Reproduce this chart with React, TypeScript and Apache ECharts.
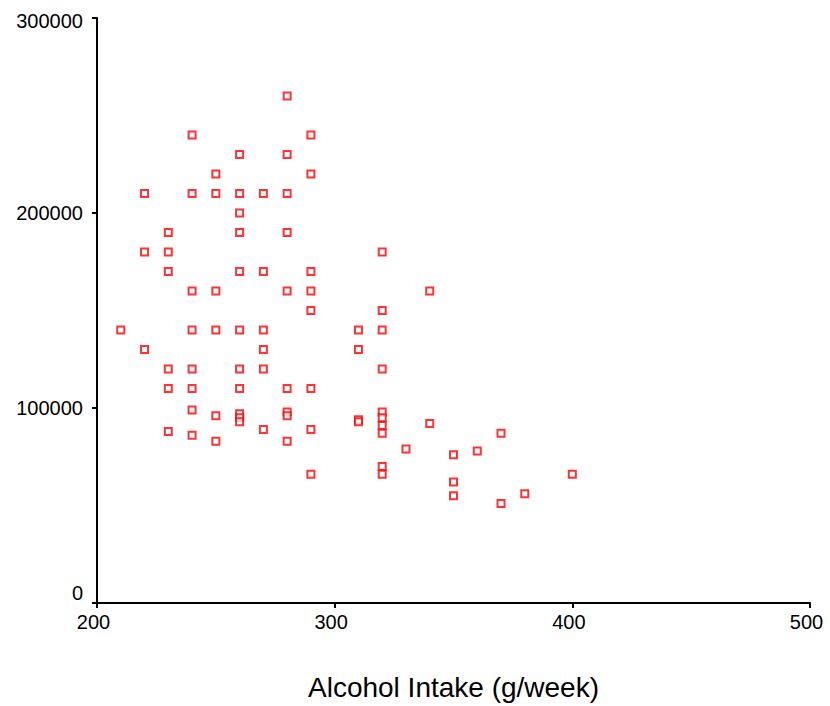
import React, { useEffect, useRef } from "react";
import * as echarts from "echarts";

// Alcohol intake (g/week)
const alcohol: number[] = [
  280, 240, 290, 260, 280, 250, 290, 220, 240, 250, 260, 270, 280, 260, 230, 260, 280,
  220, 230, 320, 230, 260, 270, 290, 240, 250, 280, 290, 340, 290, 320,
  210, 240, 250, 260, 270, 310, 320, 220, 270, 310, 230, 240, 260, 270, 320,
  230, 240, 260, 280, 290, 240, 280, 280, 250, 260, 260, 260, 320, 320, 320, 320,
  310, 310, 340, 230, 240, 250, 270, 280, 290, 370, 330, 360, 350, 320, 320, 290,
  400, 350, 350, 380, 370,
];
// Y values
const yValues: number[] = [
  260000, 240000, 240000, 230000, 230000, 220000, 220000, 210000, 210000, 210000, 210000, 210000, 210000, 200000, 190000, 190000, 190000,
  180000, 180000, 180000, 170000, 170000, 170000, 170000, 160000, 160000, 160000, 160000, 160000, 150000, 150000,
  140000, 140000, 140000, 140000, 140000, 140000, 140000, 130000, 130000, 130000, 120000, 120000, 120000, 120000, 120000,
  110000, 110000, 110000, 110000, 110000, 99000, 98000, 96000, 96000, 97000, 95000, 93000, 98000, 95000, 91000, 87000,
  94000, 93000, 92000, 88000, 86000, 83000, 89000, 83000, 89000, 87000, 79000, 78000, 76000, 70000, 66000, 66000,
  66000, 62000, 55000, 56000, 51000,
];
const xTicks = { min: 200, max: 500, interval: 100 };
const yTicks = { min: 0, max: 300000, interval: 100000 };
const xTitle = "Alcohol Intake (g/week)";

const FONT = "'Liberation Sans', Arial, sans-serif";

export default function App() {
  const ref = useRef<HTMLDivElement>(null);
  useEffect(() => {
    if (!ref.current) return;
    const chart = echarts.init(ref.current, undefined, { renderer: "svg" });
    const points = alcohol.map((x, i) => [x, yValues[i]]);
    chart.setOption({
      animation: false,
      backgroundColor: "#ffffff",
      grid: { left: 97, top: 18, right: 20, bottom: 103, containLabel: false },
      xAxis: {
        type: "value",
        min: xTicks.min,
        max: xTicks.max,
        interval: xTicks.interval,
        name: xTitle,
        nameLocation: "middle",
        nameGap: 70,
        nameTextStyle: { fontFamily: FONT, fontSize: 28, color: "#000" },
        axisLine: { show: true, lineStyle: { color: "#000", width: 2 } },
        axisTick: { show: true, inside: false, length: 5, lineStyle: { color: "#000", width: 2 } },
        axisLabel: {
          fontFamily: FONT,
          fontSize: 20,
          color: "#000",
          margin: 9,
          padding: [0, 7, 0, 0],
        },
        splitLine: { show: false },
      },
      yAxis: {
        type: "value",
        min: yTicks.min,
        max: yTicks.max,
        interval: yTicks.interval,
        axisLine: { show: true, lineStyle: { color: "#000", width: 2 } },
        axisTick: { show: true, inside: false, length: 5, lineStyle: { color: "#000", width: 2 } },
        axisLabel: {
          fontFamily: FONT,
          fontSize: 20,
          color: "#000",
          margin: 14,
          formatter: (v: number) =>
            v === 0 ? "{z|0}" : v === 300000 ? "{t|" + v + "}" : String(v),
          rich: {
            z: { fontFamily: FONT, fontSize: 20, color: "#000", padding: [0, 0, 20, 0] },
            t: { fontFamily: FONT, fontSize: 20, color: "#000", padding: [5, 0, 0, 0] },
          },
        },
        splitLine: { show: false },
      },
      series: [
        {
          type: "scatter",
          data: points,
          symbol: "rect",
          symbolSize: 7,
          itemStyle: { color: "#ffffff", borderColor: "#ff0000", borderWidth: 2 },
        },
      ],
    });
    return () => chart.dispose();
  }, []);
  return <div ref={ref} style={{ width: 830, height: 706, position: "absolute", left: 0, top: 0 }} />;
}
